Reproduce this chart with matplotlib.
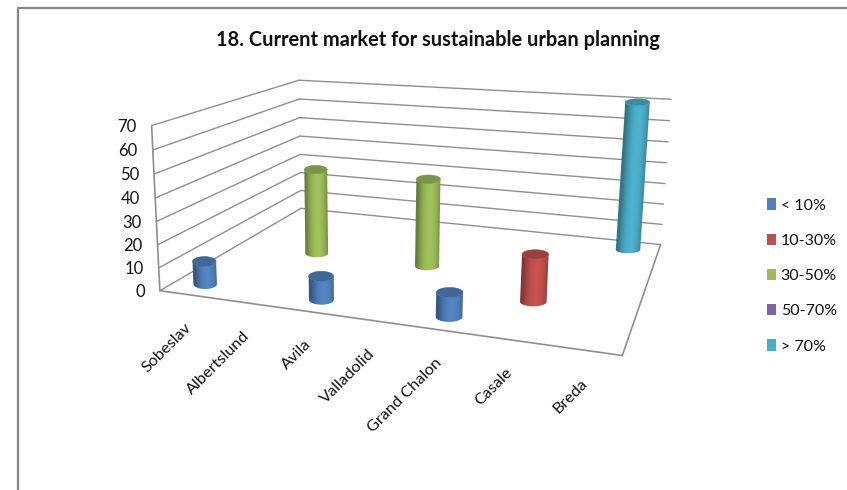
#3D cylinder chart - current market share per city, drawn on a plain 2D axes
import numpy as np
import matplotlib
matplotlib.use("Agg")
import matplotlib.pyplot as plt
from matplotlib.patches import Patch, Polygon

plt.rcParams['font.family'] = ['Lato', 'DejaVu Sans']

# Data
cities = ["Sobeslav", "Albertslund", "Avila", "Valladolid", "Grand Chalon", "Casale", "Breda"]
series_names = ["< 10%", "10-30%", "30-50%", "50-70%", "> 70%"]
series_colors = ["#4F81BD", "#C0504D", "#9BBB59", "#8064A2", "#4BACC6"]

under_10 = [10, 0, 10, 0, 10, 0, 0]
from_10_to_30 = [0, 0, 0, 0, 0, 20, 0]
from_30_to_50 = [0, 40, 0, 40, 0, 0, 0]
from_50_to_70 = [0, 0, 0, 0, 0, 0, 0]
over_70 = [0, 0, 0, 0, 0, 0, 70]
all_series = [under_10, from_10_to_30, from_30_to_50, from_50_to_70, over_70]

z_ticks = [0, 10, 20, 30, 40, 50, 60, 70]
title = "18. Current market for sustainable urban planning"

# Box limits (x = city, d = series depth, z = value)
X_MAX = len(cities)
D_MAX = len(series_names)
Z_MAX = z_ticks[-1]

# Where the box corners land on the figure, used to solve the perspective camera
BOX_CORNERS = [
    ((0, 0, 0), (160.7, 289.3)),
    ((0, 0, Z_MAX), (150.7, 126.0)),
    ((0, D_MAX, 0), (300.0, 210.0)),
    ((0, D_MAX, Z_MAX), (300.0, 79.3)),
    ((X_MAX, D_MAX, 0), (661.0, 243.0)),
    ((X_MAX, D_MAX, Z_MAX), (670.7, 100.0)),
    ((X_MAX, 0, 0), (622.3, 356.7)),
]

GRID_COLOR = "#8F8F8F"


def solve_camera(corners):
    """Least squares fit of a 3x4 projection matrix (last entry fixed to 1)"""
    rows, targets = [], []
    for (x, d, z), (u, v) in corners:
        rows.append([x, d, z, 1, 0, 0, 0, 0, -u * x, -u * d, -u * z])
        rows.append([0, 0, 0, 0, x, d, z, 1, -v * x, -v * d, -v * z])
        targets += [u, v]
    params = np.linalg.lstsq(np.array(rows, float), np.array(targets, float), rcond=None)[0]
    return np.append(params, 1.0).reshape(3, 4)


CAMERA = solve_camera(BOX_CORNERS)


def project(x, d, z):
    """Box coordinates -> figure pixels"""
    x, d, z = np.broadcast_arrays(x, d, z)
    pts = CAMERA @ np.vstack([x.ravel(), d.ravel(), z.ravel(), np.ones(x.size)])
    return np.column_stack([pts[0] / pts[2], pts[1] / pts[2]])


def draw_line(ax, start, end, **kwargs):
    pts = project(*np.array([start, end], float).T)
    ax.plot(pts[:, 0], pts[:, 1], color=GRID_COLOR, solid_capstyle='round', **kwargs)


def shade(color, factor):
    rgb = np.array(matplotlib.colors.to_rgb(color)) * factor
    return tuple(np.clip(rgb, 0, 1))


def draw_cylinder(ax, cx, cd, value, color, zorder):
    """Body as a shaded gradient clipped to its outline, then the top cap"""
    base = project(cx, cd, 0)[0]
    tip = project(cx, cd, value)[0]
    # ellipses stay level on screen, they only shrink towards the back of the box
    unit = project(cx + 0.5, cd, 0)[0][0] - project(cx - 0.5, cd, 0)[0][0]
    half_w = 0.14 * unit + 4
    half_h = 5.2 - 0.4 * cd

    angles = np.linspace(np.pi, 0, 41)
    ring = np.column_stack([half_w * np.cos(angles), half_h * np.sin(angles)])
    outline = np.vstack([base + ring, tip + ring[::-1]])

    u0, v0 = outline.min(axis=0) - 1
    u1, v1 = outline.max(axis=0) + 1
    us = np.linspace(u0, u1, int((u1 - u0) * 4))
    vs = np.linspace(v0, v1, int((v1 - v0) * 2))
    grid_u, grid_v = np.meshgrid(us, vs)

    # the centre line leans with the perspective, shading follows it
    centre = base[0] + (tip[0] - base[0]) * (grid_v - base[1]) / (tip[1] - base[1])
    across = np.clip((grid_u - centre) / half_w, -1, 1)
    # brightest a little right of centre, darker on both edges
    factors = 0.68 + 0.36 * np.clip(1 - (across - 0.15) ** 2, 0, None)
    rgb = np.clip(np.array(matplotlib.colors.to_rgb(color)) * factors[..., None], 0, 1)

    image = ax.imshow(rgb, extent=(u0, u1, v1, v0), origin='upper', aspect='auto',
                      interpolation='bilinear', zorder=zorder)
    image.set_clip_path(Polygon(outline, closed=True, transform=ax.transData))

    cap_angles = np.linspace(0, 2 * np.pi, 61)
    cap = tip + np.column_stack([half_w * np.cos(cap_angles), half_h * np.sin(cap_angles)])
    ax.add_patch(Polygon(cap, closed=True, facecolor=shade(color, 0.8),
                         edgecolor=shade(color, 0.8), linewidth=0.4, zorder=zorder + 0.1))


fig = plt.figure(figsize=(8.47, 4.90), dpi=100)
ax = fig.add_axes([0, 0, 1, 1])
ax.set_xlim(0, 847)
ax.set_ylim(490, 0)
ax.axis('off')

# Chart frame
ax.plot([18, 18, 847], [490, 8, 8], color="#868686", linewidth=1.6)

# Title
ax.text(438, 39.5, title, ha='center', va='center', fontsize=14.4, fontweight='bold', color="#111111")

# Walls: gridlines on the side wall and the back wall
for tick in z_ticks:
    draw_line(ax, (0, 0, tick), (0, D_MAX, tick), linewidth=1.0)
    draw_line(ax, (0, D_MAX, tick), (X_MAX, D_MAX, tick), linewidth=1.0)
draw_line(ax, (0, 0, 0), (0, 0, Z_MAX), linewidth=1.2)

# Floor edges
draw_line(ax, (0, 0, 0), (X_MAX, 0, 0), linewidth=1.2)
draw_line(ax, (X_MAX, 0, 0), (X_MAX, D_MAX, 0), linewidth=1.2)

# Value axis labels
for tick in z_ticks:
    u, v = project(0, 0, tick)[0]
    ax.text(u - 15, v + 1, str(tick), ha='right', va='center', fontsize=12, color="#111111")

# Category labels
for i, city in enumerate(cities):
    u, v = project(i + 0.5, 0, 0)[0]
    ax.text(u - 3.5, v + 26, city, ha='right', va='top', rotation=45, rotation_mode='anchor',
            fontsize=11.7, color="#111111")

# Cylinders, back row first so the front ones cover them
for s in range(len(series_names) - 1, -1, -1):
    for i, value in enumerate(all_series[s]):
        if value > 0:
            draw_cylinder(ax, i + 0.5, s + 0.5, value, series_colors[s], zorder=5 + (D_MAX - s))

# Legend
handles = [Patch(facecolor=c, edgecolor='none', label=n) for c, n in zip(series_colors, series_names)]
ax.legend(handles=handles, loc='center left', bbox_to_anchor=(752.6, 276), bbox_transform=ax.transData,
          frameon=False, fontsize=11.5, handlelength=0.56, handleheight=0.7, handletextpad=0.3,
          labelspacing=1.32, labelcolor="#111111")

fig.savefig("out.png", dpi=100)
